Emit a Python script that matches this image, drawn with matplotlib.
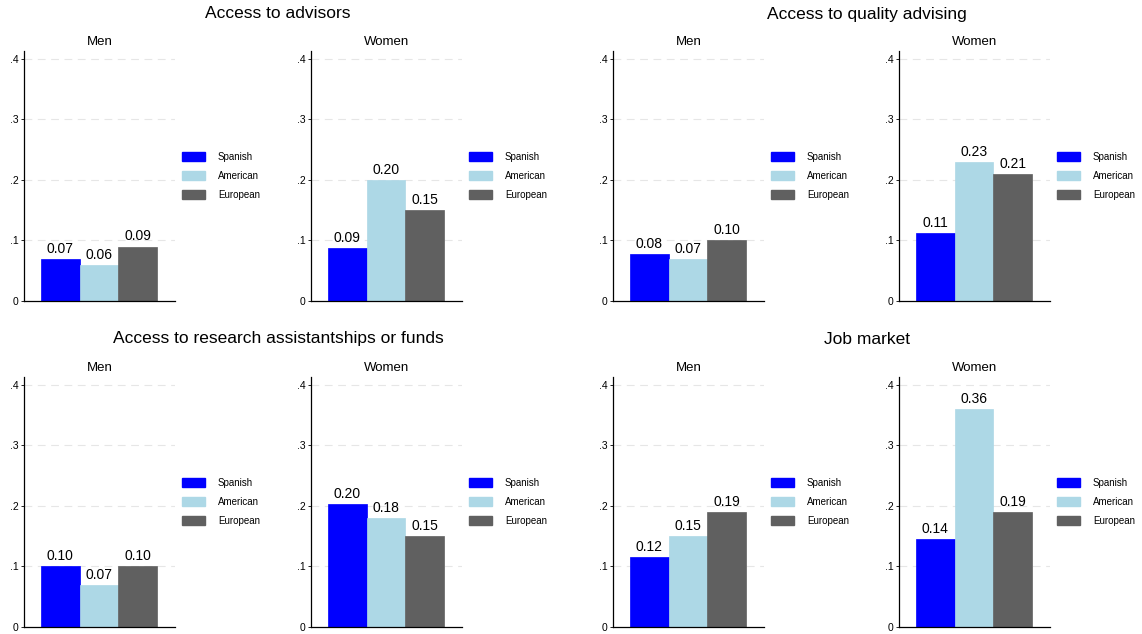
import matplotlib.pyplot as plt
from matplotlib.patches import Patch

plt.rcParams['font.family'] = ['Liberation Sans', 'DejaVu Sans']

groups = ['Spanish', 'American', 'European']
colors = ['#0000ff', '#add8e6', '#606060']

titles = ['Access to advisors', 'Access to quality advising',
          'Access to research assistantships or funds', 'Job market']

advisors_men = [0.07, 0.06, 0.09]
advisors_women = [0.088, 0.20, 0.15]
quality_men = [0.077, 0.07, 0.10]
quality_women = [0.113, 0.23, 0.21]
ra_men = [0.10, 0.07, 0.10]
ra_women = [0.203, 0.18, 0.15]
job_men = [0.116, 0.15, 0.19]
job_women = [0.145, 0.36, 0.19]

panels = [(advisors_men, advisors_women), (quality_men, quality_women),
          (ra_men, ra_women), (job_men, job_women)]

yticks = [0, 0.1, 0.2, 0.3, 0.4]
ytick_labels = ['0', '.1', '.2', '.3', '.4']

fig = plt.figure(figsize=(11.42, 6.34), dpi=100)

W = 1142.0
H = 634.0
# left edges of Men / Women axes (pixels), both 151 px wide
col_x = [(24, 311), (613, 899)]
ax_w_px = 151
row_y = [(51, 301), (377, 627)]
title_y = [14, 339]
title_x = [278, 867]


def draw(ax, vals, sub):
    ax.bar([0, 1, 2], vals, width=1.0, color=colors, edgecolor=colors, linewidth=0.5)
    for i, v in enumerate(vals):
        ax.text(i, v + 0.005, '%.2f' % v, ha='center', va='bottom', fontsize=10)
    ax.set_xlim(-0.94, 2.96)
    ax.set_ylim(0, 0.413)
    ax.set_yticks(yticks)
    ax.set_yticklabels(ytick_labels, fontsize=7.5)
    ax.set_xticks([])
    ax.tick_params(axis='y', length=2, width=0.6, pad=2)
    for y in yticks[1:]:
        ax.axhline(y, color='#e6e6e6', lw=0.8, ls=(0, (7, 5)), zorder=0)
    ax.spines['top'].set_visible(False)
    ax.spines['right'].set_visible(False)
    ax.spines['left'].set_linewidth(0.9)
    ax.spines['bottom'].set_linewidth(0.9)
    ax.set_title(sub, fontsize=9.5, pad=4)
    handles = [Patch(facecolor=c, edgecolor=c) for c in colors]
    ax.legend(handles, groups, loc='center left', bbox_to_anchor=(1.046, 0.5),
              frameon=False, fontsize=7, handlelength=2.4, handleheight=1.05,
              handletextpad=1.3, labelspacing=0.9, borderaxespad=0, borderpad=0)


for k, (men, women) in enumerate(panels):
    r = k // 2
    c = k % 2
    xm, xw = col_x[c]
    top, bot = row_y[r]
    h = (bot - top) / H
    b = 1 - bot / H
    ax_m = fig.add_axes([xm / W, b, ax_w_px / W, h])
    ax_f = fig.add_axes([xw / W, b, ax_w_px / W, h])
    draw(ax_m, men, 'Men')
    draw(ax_f, women, 'Women')
    fig.text(title_x[c] / W, 1 - title_y[r] / H, titles[k],
             ha='center', va='center', fontsize=12.5)

fig.savefig('out.png', dpi=100)
